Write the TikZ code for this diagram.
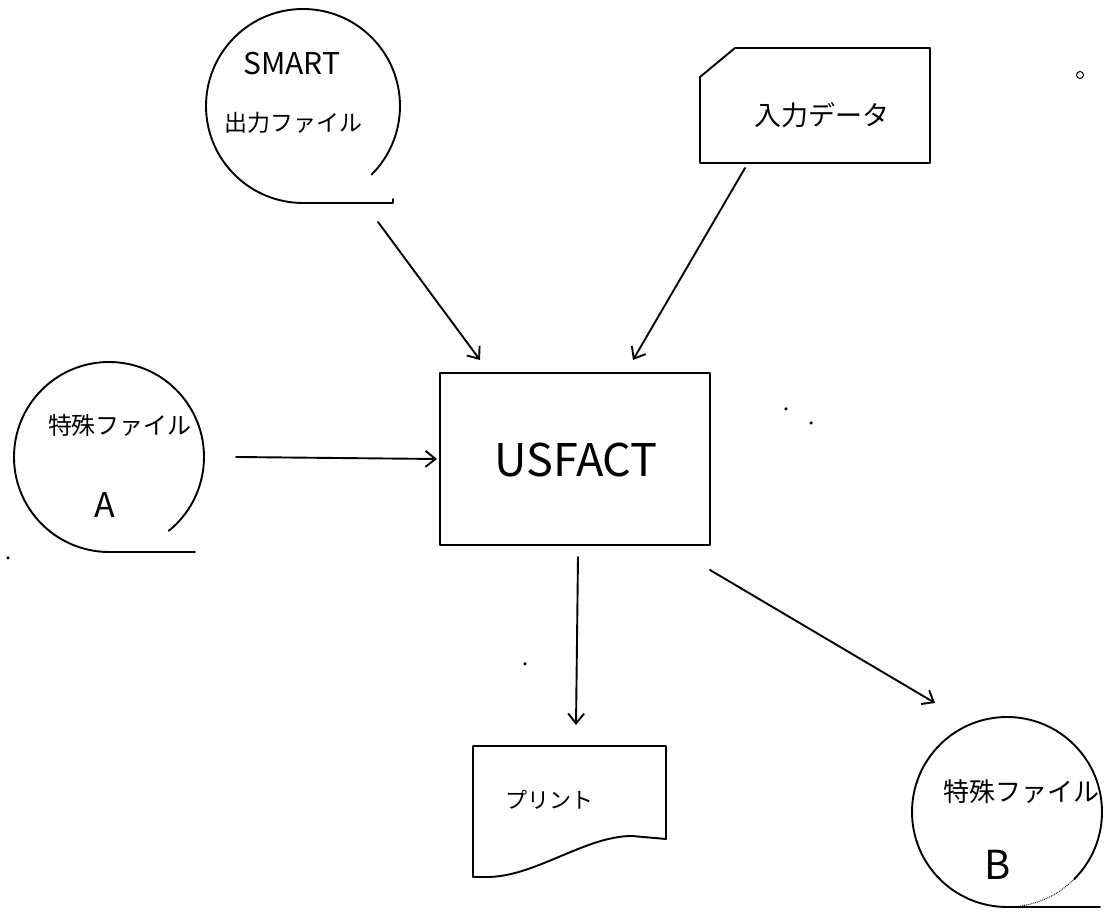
\documentclass[tikz,border=0pt]{standalone}
\usepackage{fontspec}
\newfontfamily\hand{Noto Sans CJK JP}
\usetikzlibrary{arrows.meta}
\tikzset{
  ink/.style={line width=1.9pt, line cap=round, line join=round},
  arr/.style={ink, -{Straight Barb[length=10pt, width=16pt, line width=1.9pt]}},
  spot/.style={circle, fill, inner sep=0pt, minimum size=3.5pt},
  tape/.style={circle, inner sep=0pt, outer sep=0pt, minimum size=#1},
  label/.style={font=\hand, inner sep=0pt, anchor=center},
}
\begin{document}
\begin{tikzpicture}[x=1pt, y=1pt]
\useasboundingbox (0,0) rectangle (1104,913);

% --- magnetic tape: SMART output file ---
\node[tape=194pt] (smart) at (303,807) {};
\draw[ink] (smart.-45) arc[start angle=-45, end angle=270, radius=97];
\draw[ink] (smart.south) -- ++(90,0) -- ++(0,4);
\node[label, font=\hand\fontsize{30}{30}\selectfont] (smartt) at (292,849) {SMART};
\node[label, font=\hand\fontsize{23}{23}\selectfont] (smartf) at (293,790) {出力ファイル};

% --- punched card: input data ---
\node[minimum width=230pt, minimum height=115pt, inner sep=0pt, outer sep=0pt] (input) at (815,807.5) {};
\draw[ink] (input.south west) -- (input.south east) -- (input.north east)
  -- ([xshift=35pt]input.north west) -- ([yshift=-29pt]input.north west) -- cycle;
\node[label, font=\hand\fontsize{27}{27}\selectfont] (inputt) at (822,798) {入力データ};

% --- magnetic tape: special file A ---
\node[tape=190pt] (filea) at (109,456) {};
\draw[ink] (filea.-51) arc[start angle=-51, end angle=270, radius=95];
\draw[ink] (filea.south) -- ++(86,0);
\node[label, font=\hand\fontsize{24}{24}\selectfont] (fileat) at (120,488) {特殊ファイル};
\node[label, font=\hand\fontsize{34}{34}\selectfont] (filean) at (105,408) {A};

% --- process: USFACT ---
\node[draw, ink, minimum width=270pt, minimum height=172pt, inner sep=0pt, outer sep=0pt] (usfact) at (575,454) {};
\node[label, font=\hand\fontsize{45}{45}\selectfont] (usfactt) at (576,453) {USFACT};

% --- document: print ---
\node[minimum width=193pt, minimum height=131pt, inner sep=0pt, outer sep=0pt] (print) at (569.5,101.5) {};
\draw[ink] (print.north west) -- (print.north east) -- ([yshift=38pt]print.south east)
  -- (632,77) .. controls (585,77) and (535,36) .. (487,36) -- (print.south west) -- cycle;
\node[label, font=\hand\fontsize{22}{22}\selectfont] (printt) at (549,113) {プリント};

% --- magnetic tape: special file B ---
\node[tape=190pt] (fileb) at (1007,101) {};
\draw[ink] (fileb.-45) arc[start angle=-45, end angle=270, radius=95];
\draw[line width=0.9pt, densely dotted] (fileb.-90) arc[start angle=-90, end angle=-45, radius=95];
\draw[ink] (fileb.south) -- ++(93,0);
\node[label, font=\hand\fontsize{26}{26}\selectfont] (filebt) at (1021,121) {特殊ファイル};
\node[label, font=\hand\fontsize{40}{40}\selectfont] (filebn) at (998,48) {B};

% --- connector end points ---
\coordinate (smartout) at ([xshift=75pt,yshift=-19pt]smart.south);
\coordinate (inputout) at ([xshift=45pt,yshift=-5pt]input.south west);
\coordinate (fileaout) at ([xshift=32pt]filea.east);
\coordinate (in1) at ([xshift=40pt,yshift=13pt]usfact.north west);
\coordinate (in2) at ([xshift=-77pt,yshift=13pt]usfact.north east);
\coordinate (in3) at ([xshift=-3pt]usfact.west);
\coordinate (out1) at ([xshift=3pt,yshift=-12pt]usfact.south);
\coordinate (out2) at ([yshift=-25pt]usfact.south east);
\coordinate (printin) at ([xshift=6.5pt,yshift=21pt]print.north);
\coordinate (filebin) at ([xshift=-72pt,yshift=14pt]fileb.north);

% --- data flow ---
\draw[arr] (smartout) -- (in1);
\draw[arr] (inputout) -- (in2);
\draw[arr] (fileaout) -- (in3);
\draw[arr] (out1) -- (printin);
\draw[arr] (out2) -- (filebin);

% --- stray marks ---
\draw[line width=1pt] (1080,838) circle[radius=3.5pt];
\node[spot] (s1) at (786,504) {};
\node[spot] (s2) at (811,490) {};
\node[spot] (s3) at (525,249) {};
\node[spot] (s4) at (8,355) {};
\end{tikzpicture}
\end{document}
